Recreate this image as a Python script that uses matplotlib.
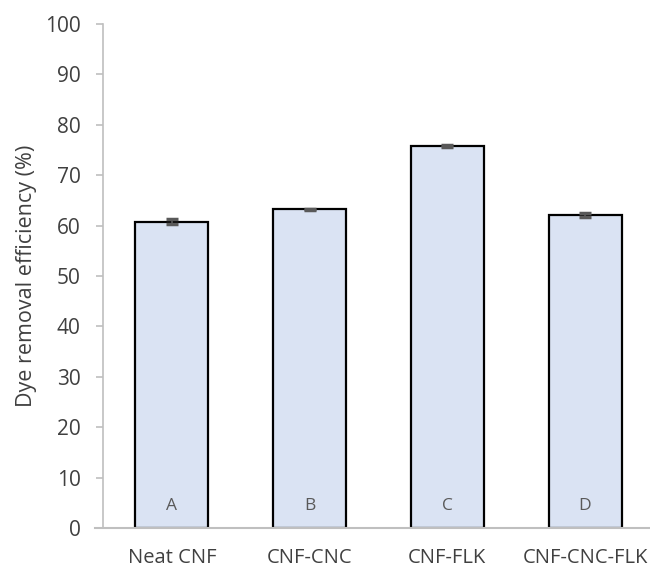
import matplotlib.pyplot as plt

# dati dell'efficienza di rimozione del colorante
campioni = ["Neat CNF", "CNF-CNC", "CNF-FLK", "CNF-CNC-FLK"]
efficienza = [60.8, 63.2, 75.8, 62.0]
errore = [0.5, 0.1, 0.2, 0.4]
lettere = ["A", "B", "C", "D"]

plt.rcParams['font.family'] = ['Open Sans', 'DejaVu Sans']
grigio = '#404040'

fig, ax = plt.subplots(figsize=(6.5, 5.69), dpi=100)
fig.subplots_adjust(left=0.1585, right=1.006, bottom=0.072, top=0.958)

pos = range(len(campioni))
ax.bar(pos, efficienza, width=0.53, color='#DAE3F3', edgecolor='black', linewidth=1.6,
       yerr=errore, ecolor='#595959', capsize=4.5, error_kw={'elinewidth': 1.2, 'capthick': 2.5})

for i, l in enumerate(lettere):
    ax.text(i, 4.4, l, ha='center', va='center', fontsize=12.5, color='#595959')

ax.set_xlim(-0.5, len(campioni) - 0.5)
ax.set_ylim(0, 100)
ax.set_yticks(range(0, 101, 10))
ax.set_xticks(list(pos))
ax.set_xticklabels(campioni, fontsize=14.5, color=grigio)
ax.tick_params(axis='y', labelsize=15, labelcolor=grigio, length=5, color='#BFBFBF', width=1.2, pad=11)
ax.tick_params(axis='x', length=0, pad=14.5)
ax.set_ylabel('Dye removal efficiency (%)', fontsize=15.5, color=grigio, labelpad=6)

ax.spines['top'].set_visible(False)
ax.spines['right'].set_visible(False)
ax.spines['left'].set_color('#BFBFBF')
ax.spines['bottom'].set_color('#BFBFBF')
ax.spines['left'].set_linewidth(1.2)
ax.spines['bottom'].set_linewidth(1.5)
ax.spines['bottom'].set_bounds(-0.56, len(campioni) - 0.5)

plt.savefig('out.png', dpi=100)
